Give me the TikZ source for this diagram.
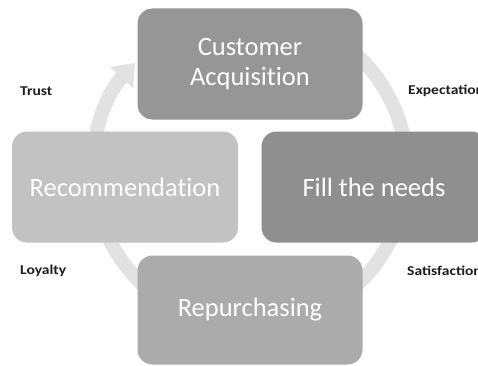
\documentclass[tikz,border=0pt]{standalone}
\usepackage{fontspec}
\setmainfont{Carlito}[Ligatures=NoCommon]
\newfontfamily\cuefont{Carlito}[FakeStretch=1.15]
\usetikzlibrary{arrows.meta}
\definecolor{ringgray}{HTML}{E2E2E2}
\definecolor{boxA}{HTML}{969696}
\definecolor{boxB}{HTML}{8F8F8F}
\definecolor{boxC}{HTML}{ABABAB}
\definecolor{boxD}{HTML}{C2C2C2}
\definecolor{labelgray}{HTML}{1E1E1E}
\tikzset{
  stagebox/.style={rounded corners=15pt, minimum width=225pt, minimum height=111pt,
    inner sep=0pt, text=white, align=center, font=\fontsize{26.5}{30}\selectfont},
  cue/.style={anchor=west, inner sep=0pt, text=labelgray, font=\cuefont\bfseries\fontsize{13.5}{15}\selectfont},
}
\begin{document}
\begin{tikzpicture}[x=1pt,y=1pt]
  \useasboundingbox (0,0) rectangle (478,365);
  \clip (0,0) rectangle (478,365);
  \fill[white] (0,0) rectangle (478,365);
  % cycle ring running clockwise behind the boxes
  \coordinate (hub) at (250,195);
  \draw[ringgray, line width=14pt, -{Triangle[width=30pt,length=20pt]}]
    (hub) ++(70:157) arc[start angle=70, end angle=-223, radius=157];
  % stages
  \node[stagebox, fill=boxA] (acq) at (250,301) {Customer\\Acquisition};
  \node[stagebox, fill=boxB] (fill) at (374,178) {Fill the needs};
  \node[stagebox, fill=boxC, minimum height=109pt] (rep) at (250,55) {Repurchasing};
  \node[stagebox, fill=boxD, minimum width=226pt] (rec) at (125,178) {Recommendation};
  % cues between stages
  \node[cue] (trust) at (20,274) {Trust};
  \node[cue] (expect) at (408,274) {Expectation};
  \node[cue] (loyal) at (20,94) {Loyalty};
  \node[cue] (satis) at (407,94) {Satisfaction};
\end{tikzpicture}
\end{document}
